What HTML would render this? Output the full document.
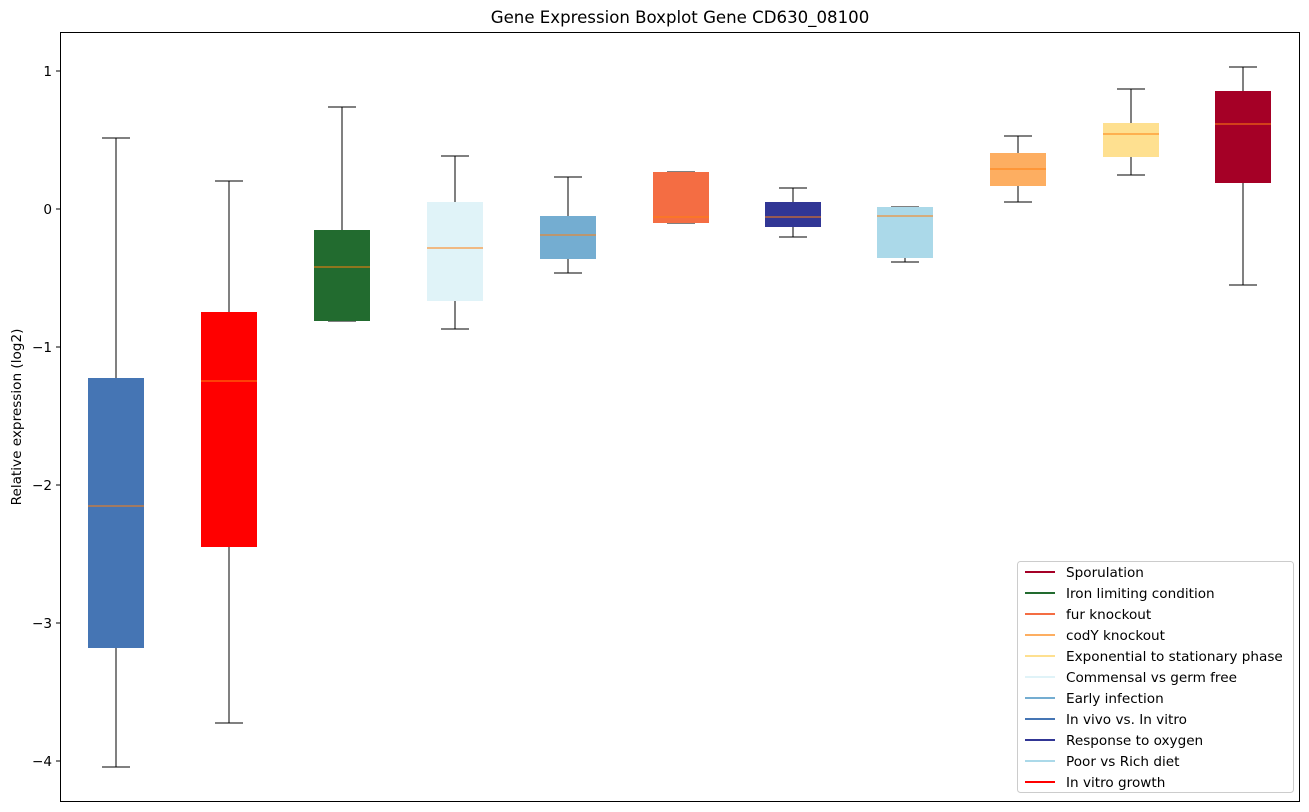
<!DOCTYPE html>
<html><head><meta charset="utf-8"><style>body{margin:0;background:#fff}svg{display:block}text{font-family:"DejaVu Sans",sans-serif;fill:#000}</style></head><body>
<svg width="1309" height="812" viewBox="0 0 1309 812" xmlns="http://www.w3.org/2000/svg">
<text x="680" y="23" font-size="16.6" text-anchor="middle">Gene Expression Boxplot Gene CD630_08100</text>
<g stroke="#000" stroke-width="1" shape-rendering="crispEdges">
<line x1="116" y1="138" x2="116" y2="378"/><line x1="116" y1="648" x2="116" y2="767"/><line x1="102" y1="138" x2="130" y2="138"/><line x1="102" y1="767" x2="130" y2="767"/>
<line x1="229" y1="181" x2="229" y2="312"/><line x1="229" y1="547" x2="229" y2="723"/><line x1="215" y1="181" x2="243" y2="181"/><line x1="215" y1="723" x2="243" y2="723"/>
<line x1="342" y1="107" x2="342" y2="230"/><line x1="328" y1="107" x2="356" y2="107"/><line x1="328" y1="321" x2="356" y2="321"/>
<line x1="455" y1="156" x2="455" y2="202"/><line x1="455" y1="301" x2="455" y2="329"/><line x1="441" y1="156" x2="469" y2="156"/><line x1="441" y1="329" x2="469" y2="329"/>
<line x1="568" y1="177" x2="568" y2="216"/><line x1="568" y1="259" x2="568" y2="273"/><line x1="554" y1="177" x2="582" y2="177"/><line x1="554" y1="273" x2="582" y2="273"/>
<line x1="667" y1="172" x2="695" y2="172"/><line x1="667" y1="223" x2="695" y2="223"/>
<line x1="793" y1="188" x2="793" y2="202"/><line x1="793" y1="227" x2="793" y2="237"/><line x1="779" y1="188" x2="807" y2="188"/><line x1="779" y1="237" x2="807" y2="237"/>
<line x1="905" y1="258" x2="905" y2="262"/><line x1="891" y1="207" x2="919" y2="207"/><line x1="891" y1="262" x2="919" y2="262"/>
<line x1="1018" y1="136" x2="1018" y2="153"/><line x1="1018" y1="186" x2="1018" y2="202"/><line x1="1004" y1="136" x2="1032" y2="136"/><line x1="1004" y1="202" x2="1032" y2="202"/>
<line x1="1131" y1="89" x2="1131" y2="123"/><line x1="1131" y1="157" x2="1131" y2="175"/><line x1="1117" y1="89" x2="1145" y2="89"/><line x1="1117" y1="175" x2="1145" y2="175"/>
<line x1="1243" y1="67" x2="1243" y2="91"/><line x1="1243" y1="183" x2="1243" y2="285"/><line x1="1229" y1="67" x2="1257" y2="67"/><line x1="1229" y1="285" x2="1257" y2="285"/>
</g>
<rect x="88" y="378" width="56" height="270" fill="#4575b4"/>
<rect x="201" y="312" width="56" height="235" fill="#ff0000"/>
<rect x="314" y="230" width="56" height="91" fill="#226b2f"/>
<rect x="427" y="202" width="56" height="99" fill="#e0f3f8"/>
<rect x="540" y="216" width="56" height="43" fill="#74add1"/>
<rect x="653" y="172" width="56" height="51" fill="#f46d43"/>
<rect x="765" y="202" width="56" height="25" fill="#313695"/>
<rect x="877" y="207" width="56" height="51" fill="#abd9e9"/>
<rect x="990" y="153" width="56" height="33" fill="#fdae61"/>
<rect x="1103" y="123" width="56" height="34" fill="#fee090"/>
<rect x="1215" y="91" width="56" height="92" fill="#a50026"/>
<g stroke="#ff7f0e" stroke-width="1" shape-rendering="crispEdges">
<line x1="88" y1="506" x2="144" y2="506"/><line x1="201" y1="381" x2="257" y2="381"/><line x1="314" y1="267" x2="370" y2="267"/><line x1="427" y1="248" x2="483" y2="248"/><line x1="540" y1="235" x2="596" y2="235"/><line x1="653" y1="217" x2="709" y2="217"/><line x1="765" y1="217" x2="821" y2="217"/><line x1="877" y1="216" x2="933" y2="216"/><line x1="990" y1="169" x2="1046" y2="169"/><line x1="1103" y1="134" x2="1159" y2="134"/><line x1="1215" y1="124" x2="1271" y2="124"/>
</g>
<rect x="60.5" y="32.5" width="1239" height="769" fill="none" stroke="#000"/>
<g stroke="#000" shape-rendering="crispEdges"><line x1="56" y1="71" x2="60" y2="71"/><line x1="56" y1="209" x2="60" y2="209"/><line x1="56" y1="347" x2="60" y2="347"/><line x1="56" y1="485" x2="60" y2="485"/><line x1="56" y1="623" x2="60" y2="623"/><line x1="56" y1="761" x2="60" y2="761"/></g>
<g font-size="13.6" text-anchor="end"><text x="52" y="76">1</text><text x="52" y="214">0</text><text x="52" y="352">−1</text><text x="52" y="490">−2</text><text x="52" y="628">−3</text><text x="52" y="766">−4</text></g>
<text transform="translate(21,417) rotate(-90)" font-size="13.6" text-anchor="middle">Relative expression (log2)</text>
<rect x="1017.5" y="561.5" width="276" height="231" rx="3" fill="#fff" stroke="#ccc"/>
<g stroke-width="2">
<line x1="1025" y1="572" x2="1055" y2="572" stroke="#a50026"/>
<line x1="1025" y1="593" x2="1055" y2="593" stroke="#226b2f"/>
<line x1="1025" y1="614" x2="1055" y2="614" stroke="#f46d43"/>
<line x1="1025" y1="635" x2="1055" y2="635" stroke="#fdae61"/>
<line x1="1025" y1="656" x2="1055" y2="656" stroke="#fee090"/>
<line x1="1025" y1="677" x2="1055" y2="677" stroke="#e0f3f8"/>
<line x1="1025" y1="698" x2="1055" y2="698" stroke="#74add1"/>
<line x1="1025" y1="719" x2="1055" y2="719" stroke="#4575b4"/>
<line x1="1025" y1="740" x2="1055" y2="740" stroke="#313695"/>
<line x1="1025" y1="761" x2="1055" y2="761" stroke="#abd9e9"/>
<line x1="1025" y1="782" x2="1055" y2="782" stroke="#ff0000"/>
</g>
<g font-size="13.6">
<text x="1066" y="577">Sporulation</text><text x="1066" y="598">Iron limiting condition</text><text x="1066" y="619">fur knockout</text><text x="1066" y="640">codY knockout</text><text x="1066" y="661">Exponential to stationary phase</text><text x="1066" y="682">Commensal vs germ free</text><text x="1066" y="703">Early infection</text><text x="1066" y="724">In vivo vs. In vitro</text><text x="1066" y="745">Response to oxygen</text><text x="1066" y="766">Poor vs Rich diet</text><text x="1066" y="787">In vitro growth</text>
</g>
</svg>
</body></html>
